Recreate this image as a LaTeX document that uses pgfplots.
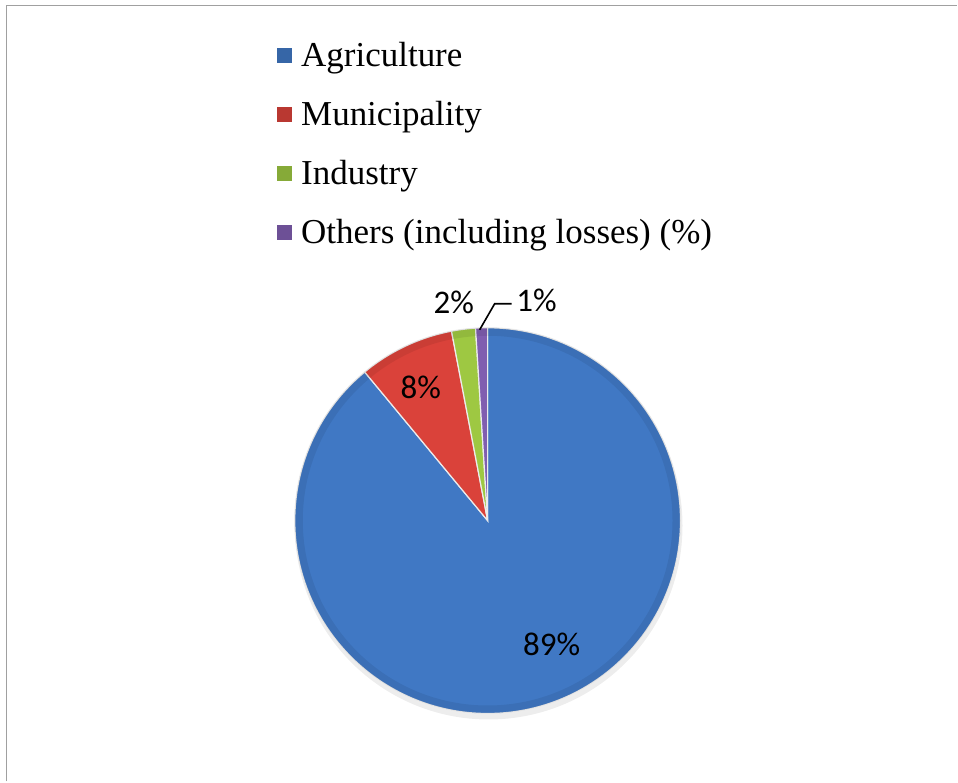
\documentclass[border=0pt]{standalone}
\usepackage{pgfplots}
\pgfplotsset{compat=1.18}
\usepackage{pgfplotstable}
\usepackage{fontspec}
\setmainfont{Liberation Serif}
\newfontfamily\calibri{Carlito}

\definecolor{pie0}{RGB}{64,120,196}
\definecolor{pie1}{RGB}{218,66,58}
\definecolor{pie2}{RGB}{158,200,66}
\definecolor{pie3}{RGB}{128,94,176}
\definecolor{frame}{RGB}{160,160,160}

\pgfplotstableread{
name value
Agriculture 89
Municipality 8
Industry 2
Others 1
}\piedata

\begin{document}
\begin{tikzpicture}
% cumulative angles (clockwise from 12 o'clock)
\gdef\cum{90}
\pgfplotsforeachungrouped \i in {0,...,3}{%
  \pgfplotstablegetelem{\i}{value}\of\piedata
  \pgfmathsetmacro\endang{\cum-\pgfplotsretval*3.6}%
  \expandafter\xdef\csname sA\i\endcsname{\cum}%
  \expandafter\xdef\csname eA\i\endcsname{\endang}%
  \xdef\cum{\endang}%
}
\begin{axis}[
  width=479pt, height=391pt, scale only axis,
  xmin=0, xmax=958, ymin=0, ymax=782, y dir=reverse,
  hide axis, clip=false,
]
\path (axis cs:0,0) rectangle (axis cs:958,782);
% frame
\draw[frame, line width=0.7pt] (axis cs:6.5,782) -- (axis cs:6.5,5.5) -- (axis cs:958,5.5);
% shadow
\fill[black, opacity=0.07] (axis cs:489,526) circle[radius=97pt];
% pie wedges
\pgfplotsinvokeforeach{0,...,3}{%
  \fill[pie#1, draw=white!85!gray, line width=0.6pt] (axis cs:488,521) -- ([shift={(\csname sA#1\endcsname:96.5pt)}]axis cs:488,521)
     arc[start angle=\csname sA#1\endcsname, end angle=\csname eA#1\endcsname, radius=96.5pt] -- cycle;
}
\draw[black, opacity=0.07, line width=4pt] (axis cs:488,521) circle[radius=94.5pt];
% data labels
\node[font=\calibri\fontsize{16.5}{18}\selectfont] at (axis cs:552,645) {89\%};
\node[font=\calibri\fontsize{16.5}{18}\selectfont] at (axis cs:421,388) {8\%};
\node[font=\calibri\fontsize{16.5}{18}\selectfont] at (axis cs:454,303) {2\%};
\node[font=\calibri\fontsize{16.5}{18}\selectfont] at (axis cs:537,301) {1\%};
\draw[black, line width=0.8pt] (axis cs:480,330) -- (axis cs:495,304) -- (axis cs:512,304);
% legend
\fill[pie0!85!black] (axis cs:277,48.5) rectangle (axis cs:292,63.5);
\node[anchor=base west, inner sep=0pt, font=\fontsize{17.5}{19}\selectfont] at (axis cs:301,67) {Agriculture};
\fill[pie1!85!black] (axis cs:277,107.5) rectangle (axis cs:292,122.5);
\node[anchor=base west, inner sep=0pt, font=\fontsize{17.5}{19}\selectfont] at (axis cs:301,126) {Municipality};
\fill[pie2!85!black] (axis cs:277,166.5) rectangle (axis cs:292,181.5);
\node[anchor=base west, inner sep=0pt, font=\fontsize{17.5}{19}\selectfont] at (axis cs:301,185) {Industry};
\fill[pie3!85!black] (axis cs:277,225.5) rectangle (axis cs:292,240.5);
\node[anchor=base west, inner sep=0pt, font=\fontsize{17.5}{19}\selectfont] at (axis cs:301,244) {Others (including losses) (\%)};
\end{axis}
\end{tikzpicture}
\end{document}
